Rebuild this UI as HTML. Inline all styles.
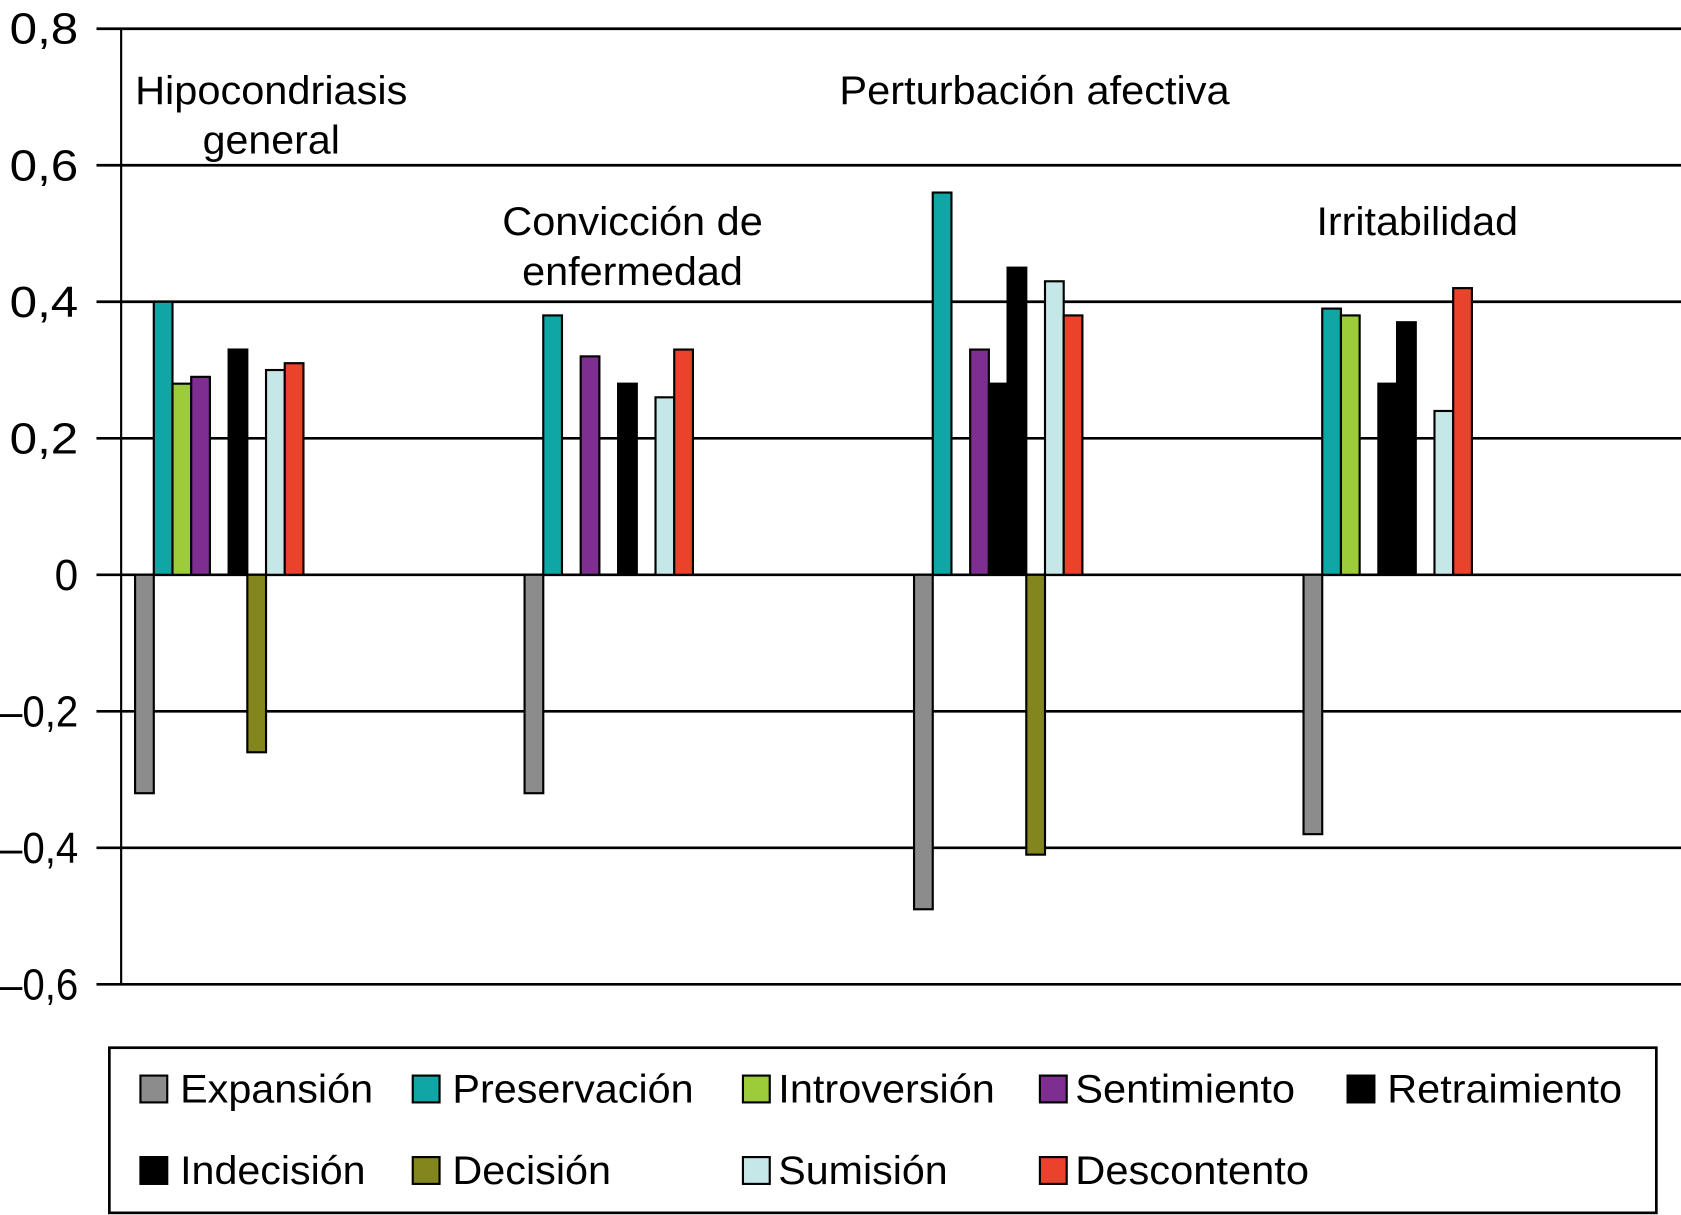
<!DOCTYPE html>
<html><head><meta charset="utf-8"><style>
html,body{margin:0;padding:0;background:#fff;}
svg{display:block;font-family:"Liberation Sans",Arial,sans-serif;}
</style></head><body>
<svg id="chart" width="1681" height="1215" viewBox="0 0 1568 1133" preserveAspectRatio="none" xmlns="http://www.w3.org/2000/svg">
<g id="grid"></g><g id="bars"></g><g id="labels"></g><g id="legend"></g>
</svg>
<script>
const categories = ["Hipocondriasis general","Convicción de enfermedad","Perturbación afectiva","Irritabilidad"];
const seriesNames = ["Expansión","Preservación","Introversión","Sentimiento","Retraimiento","Indecisión","Decisión","Sumisión","Descontento"];
const expansion = [-0.32,-0.32,-0.49,-0.38];
const preservacion = [0.40,0.38,0.56,0.39];
const introversion = [0.28,0,0,0.38];
const sentimiento = [0.29,0.32,0.33,0];
const retraimiento = [0,0,0.28,0.28];
const indecision = [0.33,0.28,0.45,0.37];
const decision = [-0.26,0,-0.41,0];
const sumision = [0.30,0.26,0.43,0.24];
const descontento = [0.31,0.33,0.38,0.42];
const yTicks = [0.8,0.6,0.4,0.2,0,-0.2,-0.4,-0.6];
const yTickLabels = ["0,8","0,6","0,4","0,2","0","\u20130,2","\u20130,4","\u20130,6"];

const series = [expansion,preservacion,introversion,sentimiento,retraimiento,indecision,decision,sumision,descontento];
const colors = ["#8c8c8c","#10a6a6","#9ccc3a","#7d2e90","#000","#000","#83861d","#c6e7e7","#e9432b"];
const NS = "http://www.w3.org/2000/svg";
function y(v){ return 536 - v*636.5; }
function x(ci, si){ return 126 + ci*363.3 + si*17.45; }
function mk(tag, attrs, parent, text){
  const e = document.createElementNS(NS, tag);
  for (const k in attrs) e.setAttribute(k, attrs[k]);
  if (text !== undefined) e.textContent = text;
  document.getElementById(parent).appendChild(e);
  return e;
}
yTicks.forEach((t,i)=>{
  const l = mk("line",{x1:90,x2:1568,y1:y(t),y2:y(t),stroke:"#000","stroke-width":2.5},"grid");
  
  
  const tx = mk("text",{x:73,y:y(t)+14,"text-anchor":"end","font-size":41,textLength:(yTickLabels[i].length===1?22:yTickLabels[i].length===3?64:73),lengthAdjust:"spacingAndGlyphs"},"labels",yTickLabels[i]);
  
  
});
const ax = mk("line",{x1:113,x2:113,y1:27,y2:917,stroke:"#000","stroke-width":2},"grid");


series.forEach((s,si)=>{
  s.forEach((v,ci)=>{
    if (v===0) return;
    const r = mk("rect",{x:x(ci,si),y:Math.min(y(v),y(0)),width:17.45,height:Math.abs(y(v)-y(0)),fill:colors[si],stroke:"#000","stroke-width":2},"bars");
    
    
  });
});
const catLabels = [[[253,97,"Hipocondriasis",254],[253,143,"general",128]],[[590,219,"Convicción de",243],[590,266,"enfermedad",206]],[[965,97,"Perturbación afectiva",364]],[[1322,219,"Irritabilidad",188]]];
catLabels.forEach((lines,ci)=>{
  lines.forEach(L=>{
    const t = mk("text",{x:L[0],y:L[1],"text-anchor":"middle","font-size":37,textLength:L[3],lengthAdjust:"spacingAndGlyphs"},"labels",L[2]);
    
    
  });
});
const box = mk("rect",{x:102,y:977,width:1443,height:154,fill:"none",stroke:"#000","stroke-width":2.5},"legend");


const lx = [131,385,693,970,1257];
const legendWidths = [180,225,202,205,219,173,148,158,218];
seriesNames.forEach((n,i)=>{
  const row = i<5?0:1, col = i<5?i:i-5;
  const cy = row===0?1015:1091;
  const sq = mk("rect",{x:lx[col],y:cy-12,width:25,height:25,fill:colors[i],stroke:"#000","stroke-width":2},"legend");
  
  
  const t = mk("text",{x:lx[col]+37+(col===2||col===3?-4:0),y:cy+13,"font-size":37,textLength:legendWidths[i],lengthAdjust:"spacingAndGlyphs"},"legend",n);
  
  
});
</script>
</body></html>
